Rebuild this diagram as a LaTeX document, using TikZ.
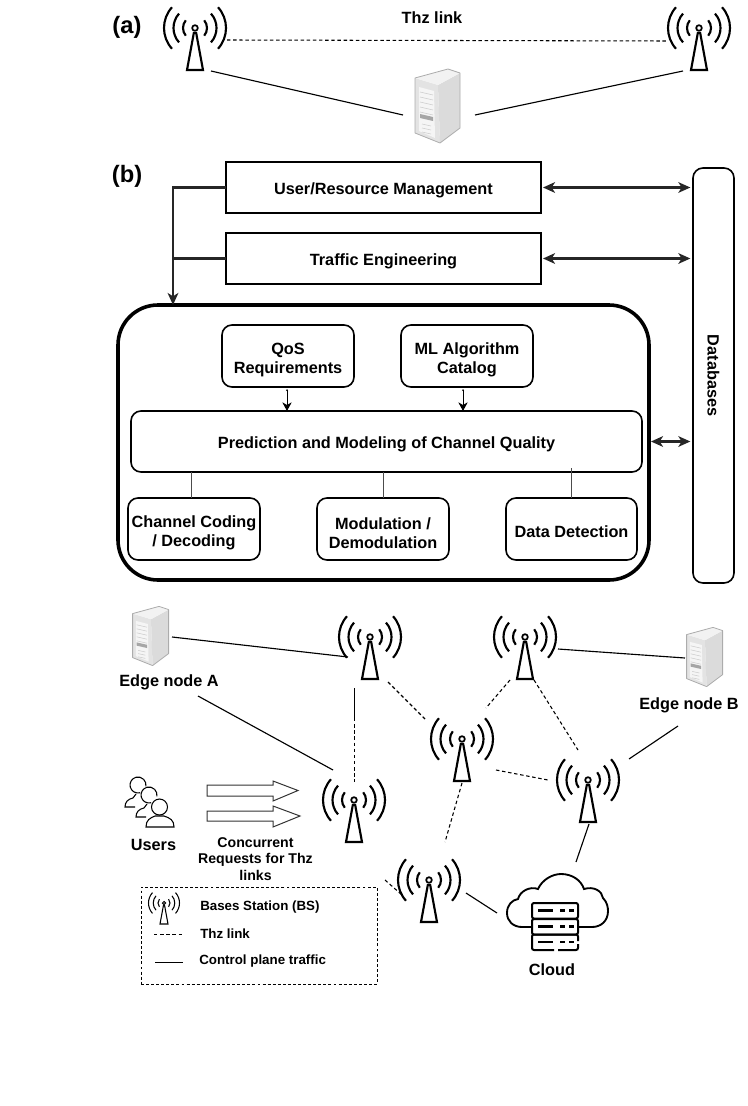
\documentclass[tikz,border=0pt]{standalone}
\usepackage{fontspec}
\setmainfont{Liberation Sans}
\usetikzlibrary{arrows.meta,calc}

\newcommand{\lowline}{\rule{0pt}{15pt}}

\tikzset{
    txt/.style={font=\fontsize{12.2}{14.3}\selectfont\bfseries, align=center, inner sep=0pt},
    smalltxt/.style={font=\fontsize{10}{12}\selectfont\bfseries, inner sep=0pt, anchor=west},
    tagtxt/.style={font=\fontsize{17.8}{20}\selectfont\bfseries, inner sep=0pt},
    boxsize/.style 2 args={minimum width=#1*0.75pt, minimum height=#2*0.75pt},
    lowtext/.style={execute at begin node={\rule{0pt}{13pt}}},
    mainbox/.style={txt, lowtext, draw, line width=1.4pt, outer sep=0pt},
    softbox/.style={txt, draw, line width=1.2pt, outer sep=0pt, rounded corners=7.5pt},
    flow/.style={line width=1.6pt, draw=black!85},
    both/.style={flow, {Stealth[length=9pt,width=8pt,inset=2.5pt]}-{Stealth[length=9pt,width=8pt,inset=2.5pt]}},
    into/.style={flow, -{Stealth[length=9pt,width=8pt,inset=2.5pt]}},
    tiny both/.style={line width=.7pt, {Stealth[length=1.5pt,width=1.5pt]}-{Stealth[length=6.5pt,width=7pt,inset=2pt]}},
    stem/.style={line width=.7pt, draw=black!70},
    ctrl/.style={line width=.85pt},
    thz/.style={line width=.8pt, dash pattern=on 2.6pt off 2pt},
    bsdot/.style={circle, draw, line width=1.3pt, inner sep=0pt, minimum size=4.2pt},
    mark point/.style={inner sep=0pt, minimum size=0pt},
    bsline/.style={line width=1.6pt},
    antenna/.pic={
        \foreach \rad/\ang in {12/40, 21.5/42, 31/42} {
            \draw[bsline] (\ang:\rad) arc[start angle=\ang, end angle=-\ang, radius=\rad];
            \draw[bsline] (180-\ang:\rad) arc[start angle=180-\ang, end angle=180+\ang, radius=\rad];
        }
        \draw[bsline, line join=miter] (-1,4) -- (-8,42) -- (8,42) -- (1,4);
    },
    server/.pic={
        \fill[gray!22] (-23,-28) -- (0,-21) -- (2,37) -- (-23,27) -- cycle;
        \fill[gray!28] (0,-21) -- (22,-33) -- (22,22) -- (2,37) -- cycle;
        \fill[gray!10] (-23,-28) -- (10,-37) -- (22,-33) -- (0,-21) -- cycle;
        \fill[gray!8] (-19,-19) -- (-4,-15) -- (-3,32) -- (-19,25) -- cycle;
        \foreach \vy in {-14,-9,...,6}
            \draw[gray!40, line width=.4pt] (-18,\vy) -- (-5,\vy+3);
        \fill[gray!70] (-18,8) -- (-5,11) -- (-5,15) -- (-18,12) -- cycle;
        \foreach \vy in {18,22,26}
            \draw[gray!40, line width=.4pt] (-16,\vy) -- (-7,\vy+2);
        \draw[gray!65, line width=.6pt, line join=round]
            (-23,-28) -- (10,-37) -- (22,-33) -- (22,22) -- (2,37) -- (-23,27) -- cycle;
    },
}

\begin{document}
\begin{tikzpicture}[x=0.75pt, y=-0.75pt]
    \useasboundingbox (0,0) rectangle (748,1106);

    % Part (a)
    \node[tagtxt] (tagA) at (127,27) {(a)};
    \node[txt] (thzTitle) at (432,18) {Thz link};
    \foreach \name/\px/\py in {bsL/195/28, bsR/699/28} {
        \node[bsdot] (\name) at (\px,\py) {};
        \pic at (\name) {antenna};
    }
    \node[mark point] (srvTop) at (438,106) {};
    \pic at (srvTop) {server};
    \draw[thz] ([shift={(32,12)}]bsL.center) -- ([shift={(-31,13)}]bsR.center);
    \draw[ctrl] ([shift={(16,43)}]bsL.center) -- ([shift={(-35,9)}]srvTop.center);
    \draw[ctrl] ([shift={(-16,43)}]bsR.center) -- ([shift={(37,9)}]srvTop.center);

    % Part (b), management blocks
    \node[tagtxt] (tagB) at (127,176) {(b)};
    \node[mainbox, boxsize={315}{51}] (userBox) at (383.5,187.5) {User/Resource Management};
    \node[mainbox, boxsize={315}{51}] (trafficBox) at (383.5,258.5) {Traffic Engineering};
    \node[draw, line width=2.7pt, rounded corners=30pt, boxsize={531}{275}, outer sep=0pt] (bigBox) at (383.5,442.5) {};
    \node[softbox, boxsize={132}{62}] (qosBox) at (288,356) {\lowline QoS\\Requirements};
    \node[softbox, boxsize={132}{62}] (mlBox) at (467,356) {\lowline ML Algorithm\\Catalog};
    \node[softbox, lowtext, boxsize={511}{61}] (predBox) at (386.5,441.5) {Prediction and Modeling of Channel Quality};
    \node[softbox, boxsize={132}{62}] (codingBox) at (194,529) {\lowline Channel Coding\\/ Decoding};
    \node[softbox, boxsize={132}{62}] (modBox) at (383,529) {\lowline Modulation /\\Demodulation};
    \node[softbox, lowtext, boxsize={131}{62}] (detectBox) at (571.5,529) {Data Detection};
    \node[softbox, rotate=-90, boxsize={415}{41}] (dbBox) at (713.5,375.5) {Databases};

    \coordinate (busJoin) at (173,258.5);
    \coordinate (bigRight) at (bigBox.east |- predBox.east);
    \draw[into] (userBox.west) -| (bigBox.north -| busJoin);
    \draw[flow] (trafficBox.west) -- (busJoin);
    \draw[both] ([xshift=1.5pt]userBox.east) -- ([xshift=-2pt]userBox.east -| dbBox.south);
    \draw[both] ([xshift=1.5pt]trafficBox.east) -- ([xshift=-2pt]trafficBox.east -| dbBox.south);
    \draw[both] ([xshift=1.5pt]bigRight) -- ([xshift=-2pt]bigRight -| dbBox.south);
    \draw[tiny both] ([shift={(-.75pt,-1.5pt)}]qosBox.south) -- ([xshift=-.75pt]qosBox.south |- predBox.north);
    \draw[tiny both] ([shift={(-3pt,-1.5pt)}]mlBox.south) -- ([xshift=-3pt]mlBox.south |- predBox.north);
    \draw[stem] ([xshift=-2.25pt]codingBox.north) -- ([xshift=-2.25pt]codingBox.north |- predBox.south);
    \draw[stem] (modBox.north) -- (modBox.north |- predBox.south);
    \draw[stem] (detectBox.north) -- ([yshift=3pt]detectBox.north |- predBox.south);

    % Network below
    \foreach \name/\px/\py in {bsA/370/637, bsB/525/637, bsC/462/739, bsD/588/780, bsE/354/800, bsF/429/880} {
        \node[bsdot] (\name) at (\px,\py) {};
        \pic at (\name) {antenna};
    }
    \node[mark point] (srvA) at (151,636) {};
    \pic[scale=0.8] at (srvA) {server};
    \node[mark point] (srvB) at (705,657) {};
    \pic[scale=0.8] at (srvB) {server};
    \node[txt] (edgeA) at (169,682) {Edge node A};
    \node[txt] (edgeB) at (689,705) {Edge node B};

    % Cloud
    \node[mark point] (cloud) at (555,905) {};
    \draw[line width=1.4pt, line cap=round] (532,927) -- (522,927)
        .. controls (513,927) and (507,921) .. (507,913)
        .. controls (507,905) and (512,900) .. (518,899)
        .. controls (520,891) and (530,886) .. (538,889)
        .. controls (542,880) and (552,874) .. (561,874)
        .. controls (572,874) and (581,880) .. (584,889)
        .. controls (594,886) and (602,891) .. (603,898)
        .. controls (607,902) and (608,907) .. (608,911)
        .. controls (608,921) and (601,927) .. (592,927) -- (578,927);
    \foreach \ty in {903,919} {
        \draw[line width=1.5pt, rounded corners=1.5pt, fill=white] (532,\ty) rectangle (578,\ty+15.5);
        \draw[line width=1.7pt] (538,\ty+7.5) -- (553,\ty+7.5) (560,\ty+7.5) -- (565,\ty+7.5) (569,\ty+7.5) -- (574,\ty+7.5);
    }
    \draw[line width=1.5pt, rounded corners=1.5pt] (554,950) -- (532,950) -- (532,934.5) -- (578,934.5) -- (578,941);
    \draw[line width=1.5pt, rounded corners=1.5pt] (558,950) -- (578,950) -- (578,944);
    \draw[line width=1.7pt] (538,942) -- (553,942) (560,942) -- (565,942) (569,942) -- (574,942);
    \node[txt] (cloudLabel) at (552,970) {Cloud};

    % Users
    \foreach \cx/\cy in {138/785, 149/795} {
        \draw[line width=.8pt] (\cx,\cy) ++(75:8) arc[start angle=75, end angle=370, radius=8];
        \draw[line width=.8pt] (\cx-2,\cy+9) -- (\cx-5,\cy+13) .. controls (\cx-10,\cy+14) and (\cx-13,\cy+17) .. (\cx-13,\cy+22) -- (\cx-3,\cy+22);
    }
    \draw[line width=.8pt] (159.5,807) circle[radius=8];
    \draw[line width=.8pt] (146,827) .. controls (146,820) and (150,818) .. (155,816)
        -- (164,816) .. controls (170,818) and (174,820) .. (174,827) -- cycle;
    \node[txt] (usersLabel) at (153.5,845) {Users};

    \foreach \ya/\yb/\yc/\yd/\tip in {781/785/796/801/298, 806/811/821/827/300} {
        \draw[line width=.75pt, draw=black!80] (207,\yb) -- (273,\yb) -- (273,\ya) -- (\tip,\yb/2+\yc/2) -- (273,\yd) -- (273,\yc) -- (207,\yc) -- cycle;
    }
    \node[txt, font=\fontsize{10.6}{12.4}\selectfont\bfseries] (reqLabel) at (255.5,859) {Concurrent\\Requests for Thz\\links};

    % Links between the stations
    \coordinate (midAE) at (354.5,718);
    \coordinate (stubEnd) at (385,880);
    \draw[ctrl] ([shift={(21,1)}]srvA.center) -- ([shift={(-22,20)}]bsA.center);
    \draw[ctrl] ([shift={(29,14)}]edgeA.center) -- ([shift={(-21,-30)}]bsE.center);
    \draw[ctrl] ([shift={(-15.5,51)}]bsA.center) -- (midAE);
    \draw[thz] (midAE) -- ([shift={(.5,-18)}]bsE.center);
    \draw[thz] ([shift={(18,45)}]bsA.center) -- ([shift={(-37,-20)}]bsC.center);
    \draw[thz] ([shift={(-15,43)}]bsB.center) -- ([shift={(24,-31)}]bsC.center);
    \draw[thz] ([shift={(9,43)}]bsB.center) -- ([shift={(-10,-30)}]bsD.center);
    \draw[ctrl] ([shift={(33,12)}]bsB.center) -- ([shift={(-20,1)}]srvB.center);
    \draw[thz] ([shift={(34,31)}]bsC.center) -- ([shift={(-40,0)}]bsD.center);
    \draw[thz] ([shift={(0,44)}]bsC.center) -- ([shift={(16,-38)}]bsF.center);
    \draw[ctrl] ([shift={(41,-21)}]bsD.center) -- ([shift={(-11,21)}]edgeB.center);
    \draw[ctrl] ([shift={(1,44)}]bsD.center) -- ([shift={(21,-43)}]cloud.center);
    \draw[ctrl] ([shift={(37,13)}]bsF.center) -- ([shift={(-58,8)}]cloud.center);
    \draw[thz] (stubEnd) -- ([shift={(-27,15)}]bsF.center);

    % Legend
    \node[draw, line width=.7pt, dash pattern=on 2.2pt off 1.6pt, boxsize={236}{97}] (legendBox) at (259,935.5) {};
    \node[bsdot, line width=.7pt, minimum size=2.4pt] (bsKey) at (164,903) {};
    \pic[scale=0.5, bsline/.style={line width=.8pt}] at (bsKey) {antenna};
    \node[smalltxt] (keyBs) at (200,907.5) {Bases Station (BS)};
    \node[smalltxt] (keyThz) at (200,934) {Thz link};
    \node[smalltxt] (keyCtrl) at (199,961.5) {Control plane traffic};
    \coordinate (thzKeyA) at (154,934.5);
    \coordinate (thzKeyB) at (183,934.5);
    \coordinate (ctrlKeyA) at (155,962.5);
    \coordinate (ctrlKeyB) at (183,962.5);
    \draw[thz, line width=.65pt] (thzKeyA) -- (thzKeyB);
    \draw[ctrl, line width=.75pt] (ctrlKeyA) -- (ctrlKeyB);
\end{tikzpicture}
\end{document}
